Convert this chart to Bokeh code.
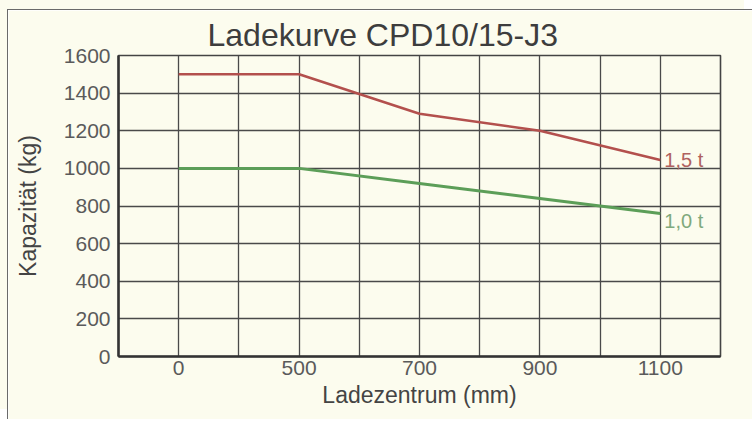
from bokeh.plotting import figure
from bokeh.models import FixedTicker, Range1d
from bokeh.core.properties import value
from bokeh.embed import file_html
from bokeh.resources import INLINE

categories = ["0", "500", "700", "900", "1100"]
load_15t = [1500, 1500, 1290, 1200, 1045]
load_10t = [1000, 1000, 920, 840, 760]
y_ticks = [0, 200, 400, 600, 800, 1000, 1200, 1400, 1600]
series_labels = ["1,5 t", "1,0 t"]

xs = list(range(len(categories)))

BG = "#fcfcee"
FONT = "Liberation Sans"

p = figure(width=745, height=410, output_backend="svg", toolbar_location=None,
           x_range=Range1d(-0.5, len(categories) - 0.5), y_range=Range1d(0, 1600),
           min_border_left=110, min_border_right=33, min_border_top=45, min_border_bottom=64,
           background_fill_color=BG, border_fill_color=BG)

p.styles = {"margin-left": "7px", "margin-top": "9px",
            "border-left": "1.5px solid #6a6a6a", "border-top": "1.5px solid #6a6a6a",
            "box-shadow": "-8px -10px 0 0 " + BG}

p.title.text = "Ladekurve CPD10/15-J3"
p.title.text_font = FONT
p.title.text_font_size = "32px"
p.title.text_font_style = "normal"
p.title.text_color = "#3d3d3d"
p.title.align = "left"
p.title.offset = 89
p.title.standoff = 5

p.outline_line_color = "#444444"
p.outline_line_width = 1.6
p.outline_line_alpha = 1

# grid
half_steps = [i * 0.5 for i in range(0, 2 * len(categories) - 1)]
p.xgrid.ticker = FixedTicker(ticks=half_steps)
p.ygrid.ticker = FixedTicker(ticks=y_ticks)
for g in (p.xgrid, p.ygrid):
    g.grid_line_color = "#4a4a4a"
    g.grid_line_width = 1.3
    g.grid_line_alpha = 1

# axes
p.xaxis.ticker = FixedTicker(ticks=xs)
p.xaxis.major_label_overrides = {i: c for i, c in zip(xs, categories)}
p.yaxis.ticker = FixedTicker(ticks=y_ticks)
p.xaxis.axis_label = "Ladezentrum (mm)"
p.yaxis.axis_label = "Kapazität (kg)"
for ax in (p.xaxis, p.yaxis):
    ax.axis_line_color = "#333333"
    ax.axis_line_width = 2.5
    ax.major_tick_line_color = None
    ax.minor_tick_line_color = None
    ax.major_tick_out = 0
    ax.major_tick_in = 0
    ax.minor_tick_out = 0
    ax.minor_tick_in = 0
    ax.major_label_text_font = FONT
    ax.major_label_text_font_size = "21px"
    ax.major_label_text_color = "#5a5a5a"
    ax.axis_label_text_font = FONT
    ax.axis_label_text_font_size = "23px"
    ax.axis_label_text_font_style = "normal"
    ax.axis_label_text_color = "#444444"
p.yaxis.major_label_standoff = 8
p.xaxis.major_label_standoff = 4
p.yaxis.axis_label_standoff = 20
p.xaxis.axis_label_standoff = 4

# lines
p.line(xs, load_15t, line_color="#b3504d", line_width=2.6)
p.line(xs, load_10t, line_color="#5c9e58", line_width=3)

p.text([xs[-1]], [load_15t[-1]], text=[series_labels[0]], text_color="#b0625f",
       text_font=value(FONT), text_font_size="20px", text_baseline="middle",
       x_offset=4, y_offset=0)
p.text([xs[-1]], [load_10t[-1]], text=[series_labels[1]], text_color="#7fa97d",
       text_font=value(FONT), text_font_size="20px", text_baseline="middle",
       x_offset=4, y_offset=7)

open("out.html", "w").write(file_html(p, INLINE))
